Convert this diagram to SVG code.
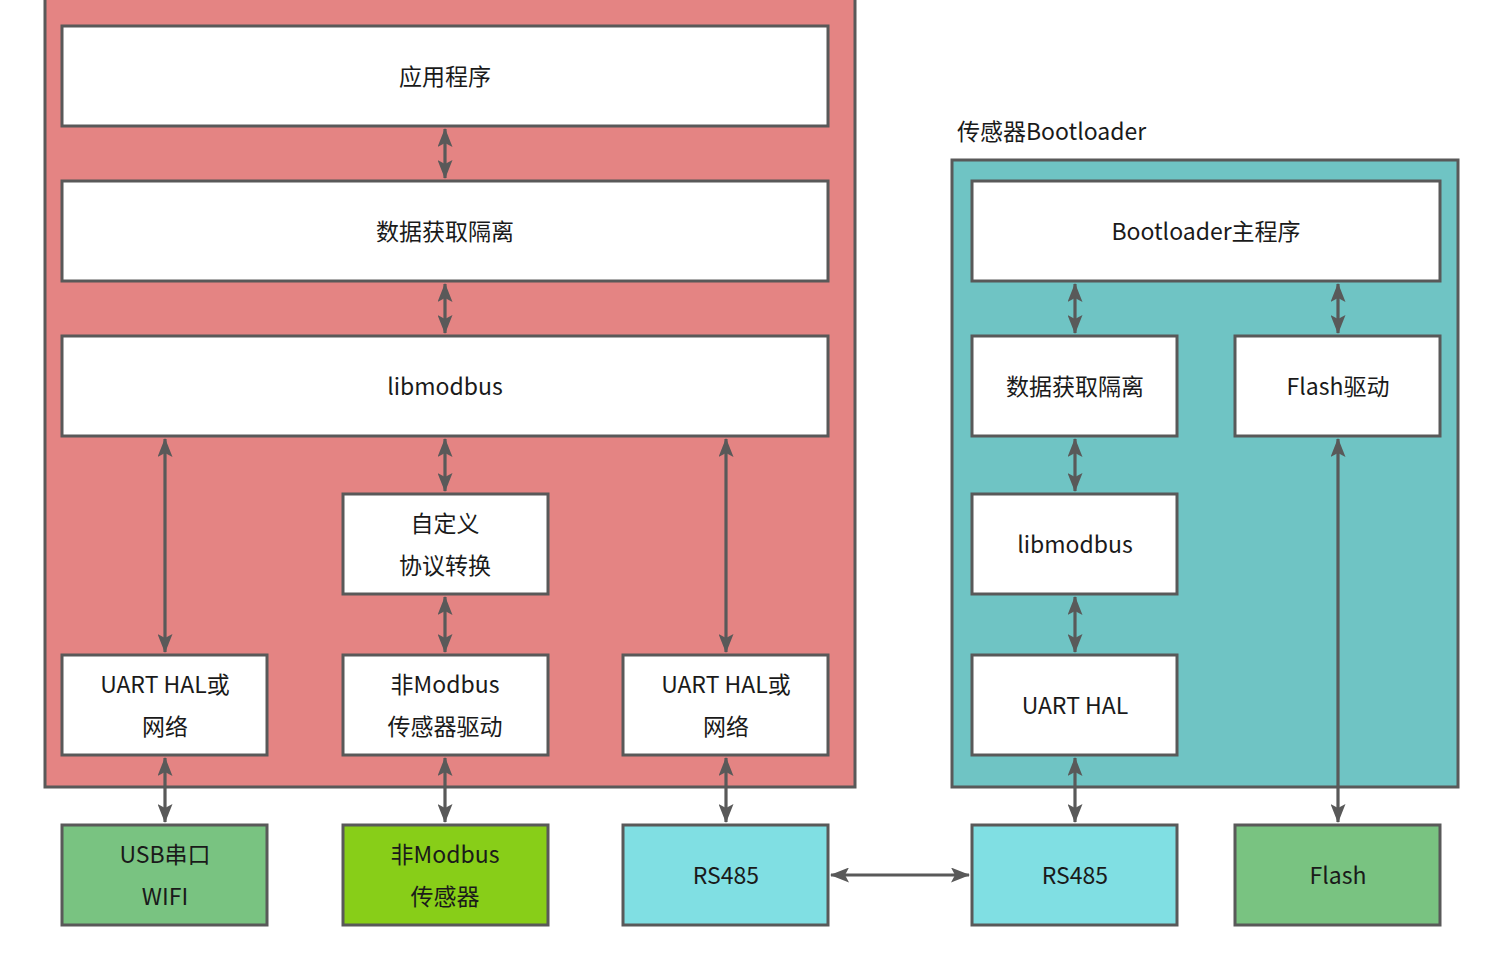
<svg xmlns="http://www.w3.org/2000/svg" width="1500" height="966" viewBox="0 0 1500 966">
<defs>
<marker id="ah" viewBox="0 0 19 15" refX="18" refY="7.5" markerWidth="19" markerHeight="15" markerUnits="userSpaceOnUse" orient="auto-start-reverse">
<path d="M0,0 L19,7.5 L0,15 L4,7.5 Z" fill="#595959"/>
</marker>
<style>
.box{stroke:#595959;stroke-width:3}
.w{fill:#ffffff}
.t{font-family:"Noto Sans CJK SC","Noto Sans",sans-serif;font-size:23px;fill:#1a1a1a;text-anchor:middle;dominant-baseline:central}
.c{stroke:#595959;stroke-width:3.2;fill:none;marker-start:url(#ah);marker-end:url(#ah)}
</style>
</defs>
<rect width="1500" height="966" fill="#ffffff"/>
<g id="panel-app">
<rect class="box" x="45" y="-10" width="810" height="797" fill="#E48483"/>
</g>
<g id="panel-boot">
<rect class="box" x="952" y="160" width="506" height="627" fill="#6FC4C4"/>
<text class="t" x="957" y="130" style="text-anchor:start">传感器Bootloader</text>
</g>
<g id="n-app"><rect class="box w" x="62" y="26" width="766" height="100"/><text class="t" x="445" y="75">应用程序</text></g>
<g id="n-iso"><rect class="box w" x="62" y="181" width="766" height="100"/><text class="t" x="445" y="230">数据获取隔离</text></g>
<g id="n-libmodbus"><rect class="box w" x="62" y="336" width="766" height="100"/><text class="t" x="445" y="385">libmodbus</text></g>
<g id="n-custom"><rect class="box w" x="343" y="494" width="205" height="100"/><text class="t" x="445" y="522">自定义</text><text class="t" x="445" y="564">协议转换</text></g>
<g id="n-uart1"><rect class="box w" x="62" y="655" width="205" height="100"/><text class="t" x="165" y="683">UART HAL或</text><text class="t" x="165" y="725">网络</text></g>
<g id="n-nonmod-drv"><rect class="box w" x="343" y="655" width="205" height="100"/><text class="t" x="445" y="683">非Modbus</text><text class="t" x="445" y="725">传感器驱动</text></g>
<g id="n-uart2"><rect class="box w" x="623" y="655" width="205" height="100"/><text class="t" x="726" y="683">UART HAL或</text><text class="t" x="726" y="725">网络</text></g>
<g id="n-usb"><rect class="box" x="62" y="825" width="205" height="100" fill="#79C381"/><text class="t" x="165" y="853">USB串口</text><text class="t" x="165" y="895">WIFI</text></g>
<g id="n-nonmod"><rect class="box" x="343" y="825" width="205" height="100" fill="#88CE18"/><text class="t" x="445" y="853">非Modbus</text><text class="t" x="445" y="895">传感器</text></g>
<g id="n-rs485a"><rect class="box" x="623" y="825" width="205" height="100" fill="#80DFE3"/><text class="t" x="726" y="874">RS485</text></g>
<g id="n-bootmain"><rect class="box w" x="972" y="181" width="468" height="100"/><text class="t" x="1206" y="230">Bootloader主程序</text></g>
<g id="n-iso2"><rect class="box w" x="972" y="336" width="205" height="100"/><text class="t" x="1075" y="385">数据获取隔离</text></g>
<g id="n-flashdrv"><rect class="box w" x="1235" y="336" width="205" height="100"/><text class="t" x="1338" y="385">Flash驱动</text></g>
<g id="n-libmodbus2"><rect class="box w" x="972" y="494" width="205" height="100"/><text class="t" x="1075" y="543">libmodbus</text></g>
<g id="n-uart3"><rect class="box w" x="972" y="655" width="205" height="100"/><text class="t" x="1075" y="704">UART HAL</text></g>
<g id="n-rs485b"><rect class="box" x="972" y="825" width="205" height="100" fill="#80DFE3"/><text class="t" x="1075" y="874">RS485</text></g>
<g id="n-flash"><rect class="box" x="1235" y="825" width="205" height="100" fill="#79C381"/><text class="t" x="1338" y="874">Flash</text></g>
<g id="connectors">
<line class="c" x1="445" y1="129" x2="445" y2="178"/>
<line class="c" x1="445" y1="284" x2="445" y2="333"/>
<line class="c" x1="165" y1="439" x2="165" y2="652"/>
<line class="c" x1="445" y1="439" x2="445" y2="491"/>
<line class="c" x1="726" y1="439" x2="726" y2="652"/>
<line class="c" x1="445" y1="597" x2="445" y2="652"/>
<line class="c" x1="165" y1="758" x2="165" y2="822"/>
<line class="c" x1="445" y1="758" x2="445" y2="822"/>
<line class="c" x1="726" y1="758" x2="726" y2="822"/>
<line class="c" x1="831" y1="875" x2="969" y2="875"/>
<line class="c" x1="1075" y1="284" x2="1075" y2="333"/>
<line class="c" x1="1338" y1="284" x2="1338" y2="333"/>
<line class="c" x1="1075" y1="439" x2="1075" y2="491"/>
<line class="c" x1="1075" y1="597" x2="1075" y2="652"/>
<line class="c" x1="1075" y1="758" x2="1075" y2="822"/>
<line class="c" x1="1338" y1="439" x2="1338" y2="822"/>
</g>
</svg>
